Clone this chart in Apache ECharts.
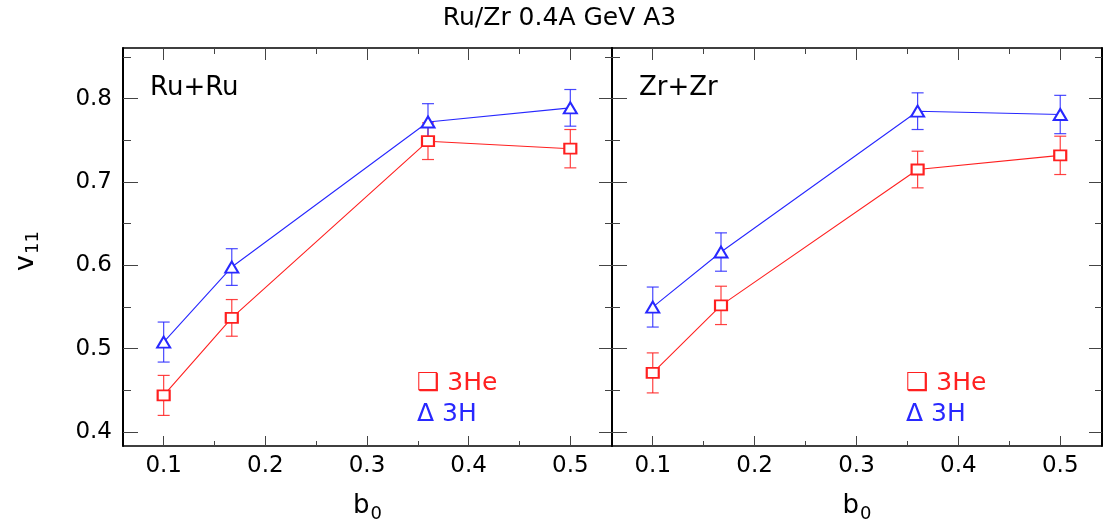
<!DOCTYPE html>
<html>
<head>
<meta charset="utf-8">
<script src="https://cdn.jsdelivr.net/npm/echarts@6/dist/echarts.min.js"></script>
<style>html,body{margin:0;padding:0;background:#fff}#c{width:1119px;height:528px}</style>
</head>
<body>
<div id="c"></div>
<script>
// ---- data ----
const bValues = [0.1, 0.167, 0.36, 0.5];
const ruHe = [0.444, 0.537, 0.749, 0.740];
const ruHeErr = [0.024, 0.022, 0.022, 0.023];
const ruH = [0.508, 0.598, 0.772, 0.789];
const ruHErr = [0.024, 0.022, 0.022, 0.022];
const zrHe = [0.471, 0.552, 0.715, 0.732];
const zrHeErr = [0.024, 0.023, 0.022, 0.023];
const zrH = [0.550, 0.616, 0.785, 0.781];
const zrHErr = [0.024, 0.023, 0.022, 0.023];
const xMajor = [0.1, 0.2, 0.3, 0.4, 0.5];
const xMinor = [0.15, 0.25, 0.35, 0.45];
const yMajor = [0.4, 0.5, 0.6, 0.7, 0.8];
const yMinor = [0.45, 0.55, 0.65, 0.75, 0.85];
const panelNames = ['Ru+Ru', 'Zr+Zr'];
const titleText = 'Ru/Zr 0.4A GeV A3';

// ---- style ----
const RED = '#ff2020', BLUE = '#2828ff';
const FONT = 'DejaVu Sans';
const X_MIN = 0.06, X_MAX = 0.541, Y_MIN = 0.3833, Y_MAX = 0.8608;
const grids = [
  {left: 123, top: 48, width: 489, height: 401},
  {left: 612, top: 48, width: 490, height: 401}
];

function pts(xs, ys) { return xs.map((x, i) => [x, ys[i]]); }
function errPts(xs, ys, es) { return xs.map((x, i) => [x, ys[i], es[i]]); }

const xAxes = [], yAxes = [];
grids.forEach((g, gi) => {
  const base = {type: 'value', gridIndex: gi, min: X_MIN, max: X_MAX, splitLine: {show: false}};
  xAxes.push(Object.assign({}, base, {
    position: 'bottom',
    axisLine: {show: true, lineStyle: {color: '#000', width: 1.5}},
    axisTick: {show: true, inside: true, length: 10, customValues: xMajor, lineStyle: {color: '#444', width: 1}},
    axisLabel: {show: true, customValues: xMajor, margin: 9, fontSize: 23, fontFamily: FONT, color: '#000',
      formatter: v => v.toFixed(1)},
    name: '{b|b}{s|0}', nameLocation: 'middle', nameGap: 44,
    nameTextStyle: {rich: {b: {fontSize: 26, fontFamily: FONT, color: '#000'},
      s: {fontSize: 18, fontFamily: FONT, color: '#000', verticalAlign: 'bottom', padding: [15, 0, 0, 1]}}}
  }));
  xAxes.push(Object.assign({}, base, {
    position: 'bottom', axisLine: {show: false},
    axisTick: {show: true, inside: true, length: 5, customValues: xMinor, lineStyle: {color: '#444', width: 1}},
    axisLabel: {show: false}
  }));
  xAxes.push(Object.assign({}, base, {
    position: 'top',
    axisLine: {show: true, lineStyle: {color: '#000', width: 1.5}},
    axisTick: {show: true, inside: true, length: 12, customValues: xMajor, lineStyle: {color: '#444', width: 1}},
    axisLabel: {show: false}
  }));
  xAxes.push(Object.assign({}, base, {
    position: 'top', axisLine: {show: false},
    axisTick: {show: true, inside: true, length: 6, customValues: xMinor, lineStyle: {color: '#444', width: 1}},
    axisLabel: {show: false}
  }));

  const ybase = {type: 'value', gridIndex: gi, min: Y_MIN, max: Y_MAX, splitLine: {show: false}};
  yAxes.push(Object.assign({}, ybase, {
    position: 'left',
    axisLine: {show: true, lineStyle: {color: '#000', width: 2}},
    axisTick: {show: true, inside: true, length: 15, customValues: yMajor, lineStyle: {color: '#444', width: 1}},
    axisLabel: gi === 0 ? {show: true, customValues: yMajor, margin: 11, fontSize: 23, fontFamily: FONT, color: '#000',
      formatter: v => v.toFixed(1)} : {show: false}
  }));
  yAxes.push(Object.assign({}, ybase, {
    position: 'left', axisLine: {show: false},
    axisTick: {show: true, inside: true, length: 8, customValues: yMinor, lineStyle: {color: '#444', width: 1}},
    axisLabel: {show: false}
  }));
  yAxes.push(Object.assign({}, ybase, {
    position: 'right',
    axisLine: {show: true, lineStyle: {color: '#000', width: 2}},
    axisTick: {show: true, inside: true, length: 13, customValues: yMajor, lineStyle: {color: '#444', width: 1}},
    axisLabel: {show: false}
  }));
  yAxes.push(Object.assign({}, ybase, {
    position: 'right', axisLine: {show: false},
    axisTick: {show: true, inside: true, length: 7, customValues: yMinor, lineStyle: {color: '#444', width: 1}},
    axisLabel: {show: false}
  }));
});

function errSeries(gi, data, color) {
  return {
    type: 'custom', xAxisIndex: gi * 4, yAxisIndex: gi * 4, data: data, z: 3,
    renderItem: function (params, api) {
      const x = api.value(0), y = api.value(1), e = api.value(2);
      const t = api.coord([x, y + e]), b = api.coord([x, y - e]);
      const hw = 6;
      const st = {stroke: color, lineWidth: 1.2, opacity: 0.85};
      return {type: 'group', children: [
        {type: 'line', shape: {x1: t[0], y1: t[1], x2: b[0], y2: b[1]}, style: st},
        {type: 'line', shape: {x1: t[0] - hw, y1: t[1], x2: t[0] + hw, y2: t[1]}, style: st},
        {type: 'line', shape: {x1: b[0] - hw, y1: b[1], x2: b[0] + hw, y2: b[1]}, style: st}
      ]};
    }
  };
}
function lineSeries(gi, data, color, symbol, size) {
  return {
    type: 'line', xAxisIndex: gi * 4, yAxisIndex: gi * 4, data: data, z: 4,
    symbol: symbol, symbolSize: size, showAllSymbol: true,
    lineStyle: {color: color, width: 1.1},
    itemStyle: {color: color, borderColor: color, borderWidth: 1},
    animation: false
  };
}

const series = [
  errSeries(0, errPts(bValues, ruHe, ruHeErr), RED),
  errSeries(0, errPts(bValues, ruH, ruHErr), BLUE),
  lineSeries(0, pts(bValues, ruHe), RED, 'emptyRect', [12, 10]),
  lineSeries(0, pts(bValues, ruH), BLUE, 'emptyTriangle', [13, 11]),
  errSeries(1, errPts(bValues, zrHe, zrHeErr), RED),
  errSeries(1, errPts(bValues, zrH, zrHErr), BLUE),
  lineSeries(1, pts(bValues, zrHe), RED, 'emptyRect', [12, 10]),
  lineSeries(1, pts(bValues, zrH), BLUE, 'emptyTriangle', [13, 11])
];

const graphics = [
  {type: 'text', left: 'center', top: 6, style: {text: titleText, font: '25px "DejaVu Sans"', fill: '#000'}},
  {type: 'text', x: 26, y: 251, rotation: Math.PI / 2,
    style: {text: '{v|v}{s|11}', align: 'center', verticalAlign: 'middle',
      rich: {v: {fontSize: 27, fontFamily: FONT, fill: '#000'},
             s: {fontSize: 18, fontFamily: FONT, fill: '#000', padding: [15, 0, 0, 1]}}}}
];
grids.forEach((g, gi) => {
  graphics.push({type: 'text', x: g.left + 27, y: 88,
    style: {text: panelNames[gi], font: '26px "DejaVu Sans"', fill: '#000', verticalAlign: 'middle'}});
  graphics.push({type: 'text', x: g.left + 294, y: 383,
    style: {text: '❑ 3He', font: '25px "DejaVu Sans"', fill: RED, verticalAlign: 'middle'}});
  graphics.push({type: 'text', x: g.left + 294, y: 414,
    style: {text: 'Δ 3H', font: '25px "DejaVu Sans"', fill: BLUE, verticalAlign: 'middle'}});
});

const chart = echarts.init(document.getElementById('c'), null, {renderer: 'canvas'});
chart.setOption({
  backgroundColor: '#fff',
  animation: false,
  grid: grids.map(g => Object.assign({}, g, {containLabel: false})),
  xAxis: xAxes,
  yAxis: yAxes,
  series: series,
  graphic: graphics
});
</script>
</body>
</html>
